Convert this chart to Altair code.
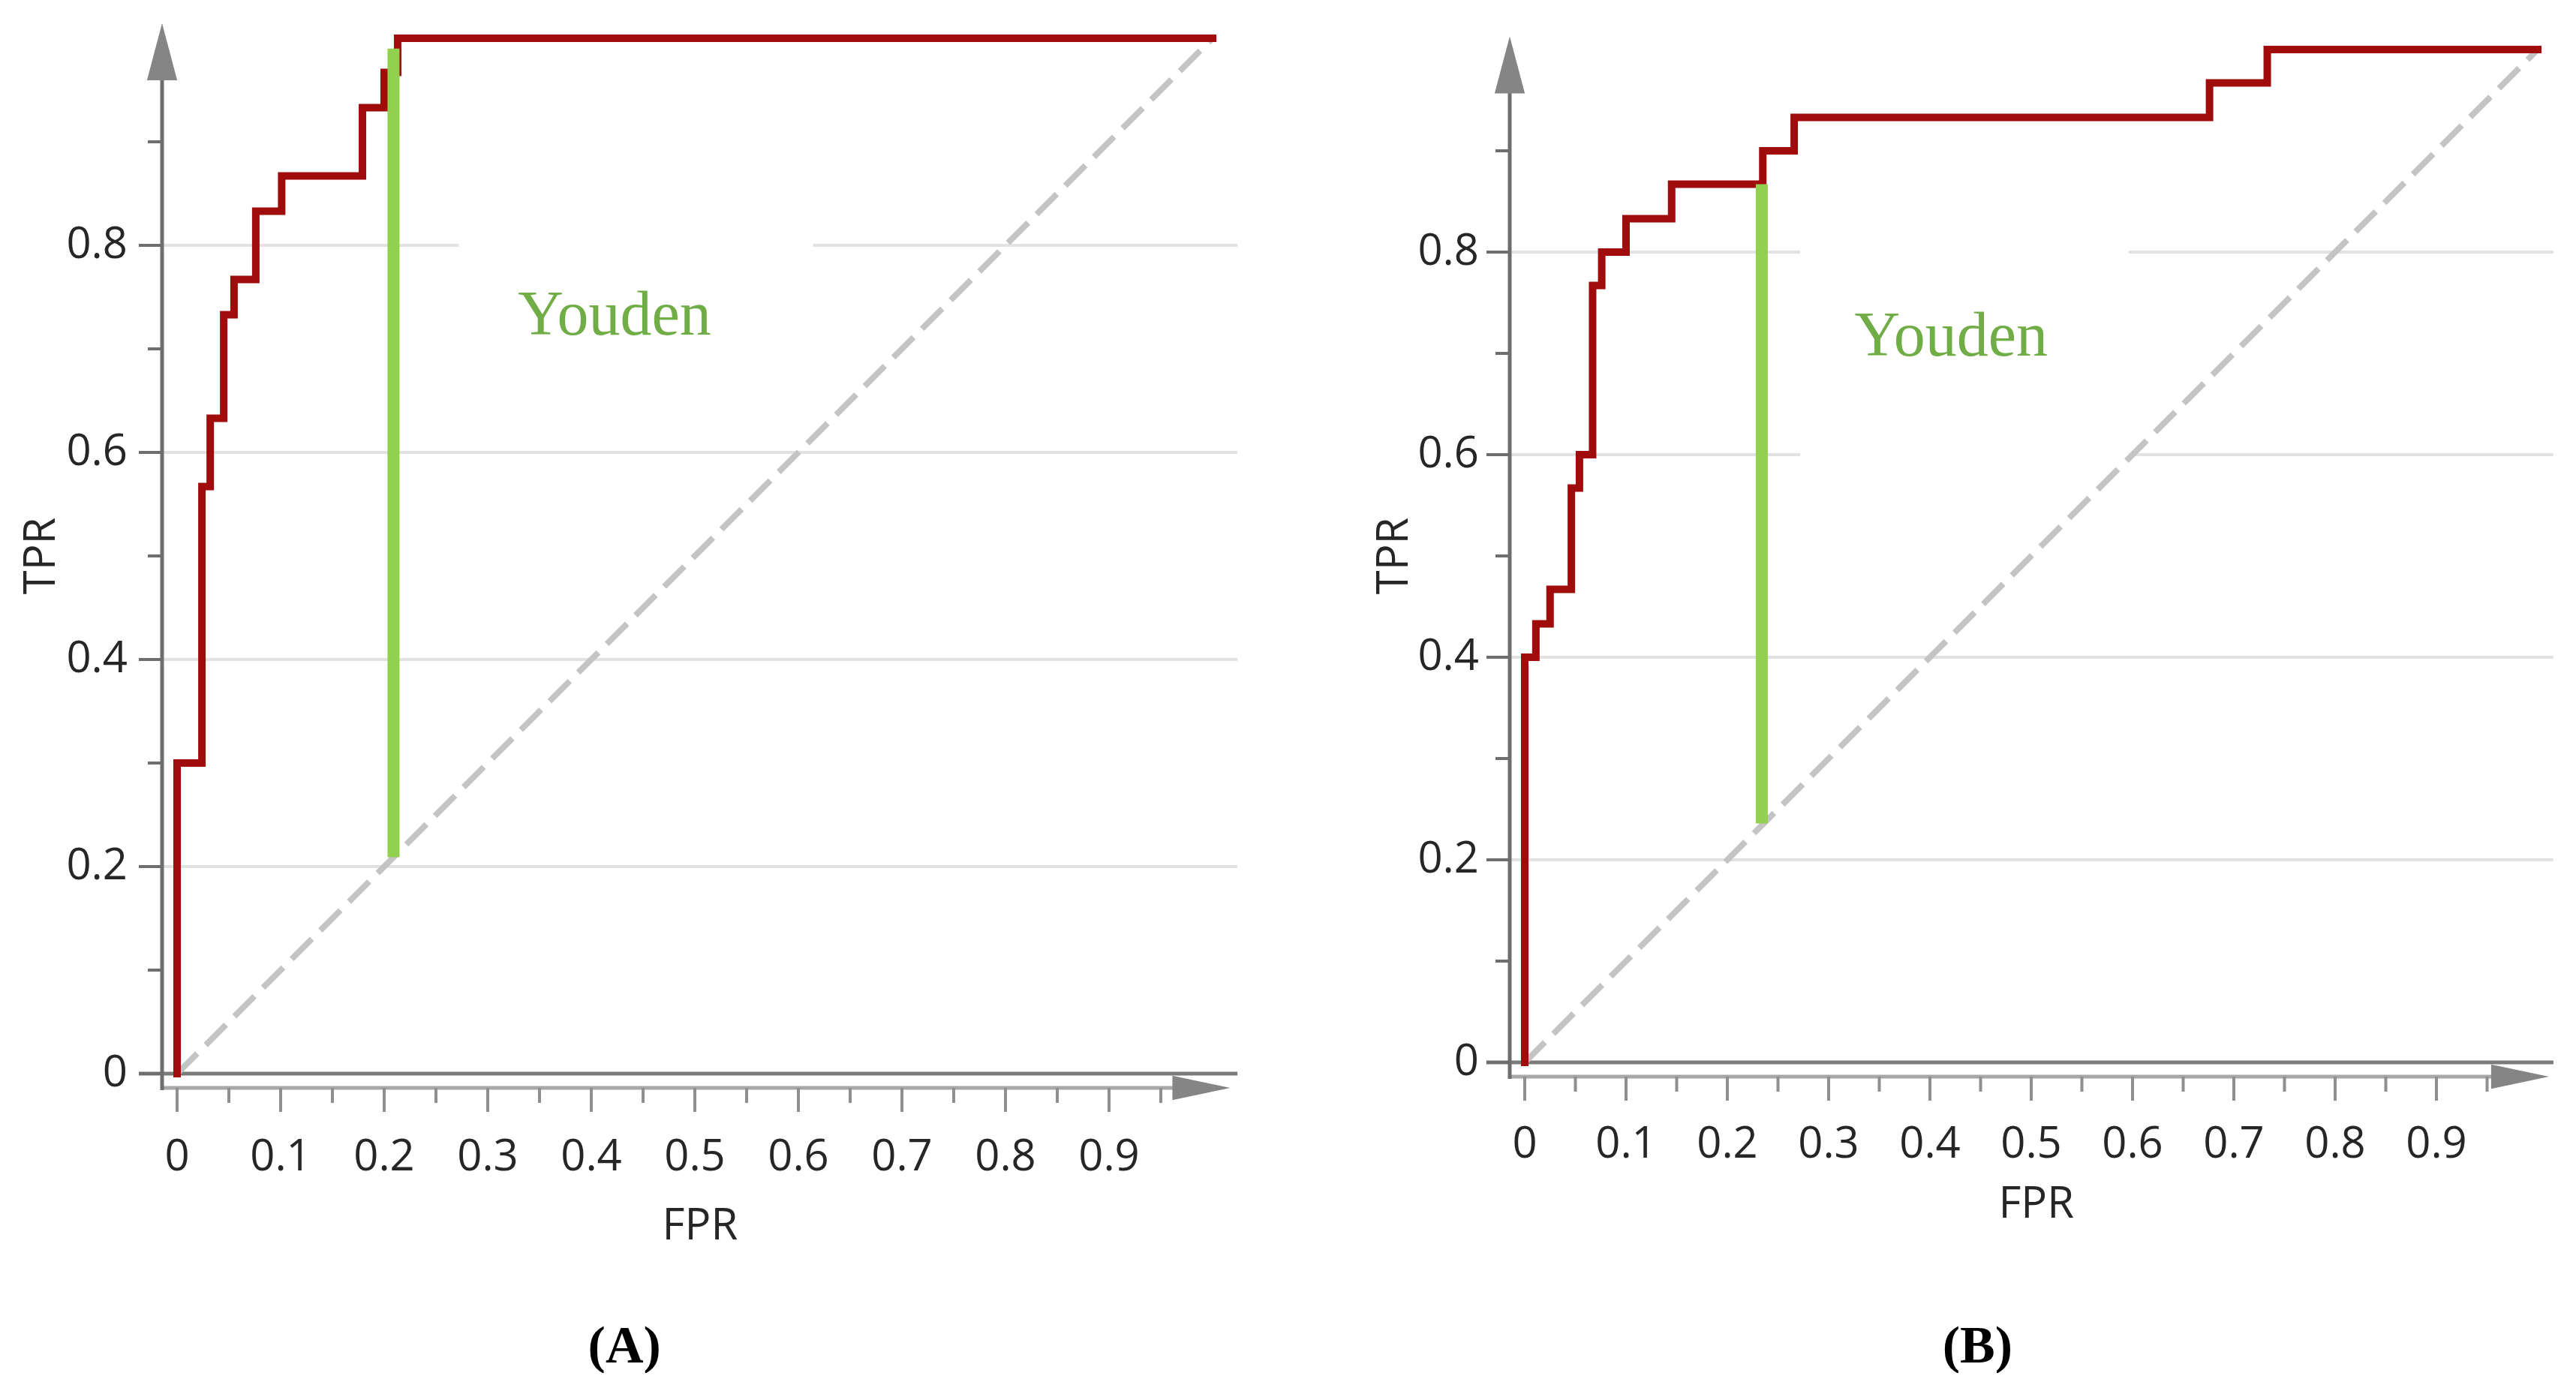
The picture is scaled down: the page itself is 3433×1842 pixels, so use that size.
import altair as alt
import pandas as pd

# ------------------------------------------------------------------
# Data
# ------------------------------------------------------------------
# ROC step curves (points of a step-after line)
A_FPR = [0.0, 0.0, 0.024, 0.032, 0.045, 0.055, 0.076, 0.101, 0.179, 0.200, 0.213, 1.0]
A_TPR = [0.0, 0.300, 0.567, 0.633, 0.733, 0.767, 0.833, 0.867, 0.933, 0.967, 1.0, 1.0]

B_FPR = [0.0, 0.0, 0.011, 0.025, 0.046, 0.054, 0.067, 0.076, 0.100, 0.145, 0.235, 0.266, 0.676, 0.733, 1.0]
B_TPR = [0.0, 0.400, 0.433, 0.467, 0.567, 0.600, 0.767, 0.800, 0.833, 0.867, 0.900, 0.933, 0.967, 1.0, 1.0]

# Youden index segments (x, from, to)
A_YOUDEN_X, A_YOUDEN_Y1, A_YOUDEN_Y2 = 0.209, 0.209, 0.990
B_YOUDEN_X, B_YOUDEN_Y1, B_YOUDEN_Y2 = 0.234, 0.236, 0.867

# chance diagonal
DIAG_X = [0.0, 1.0]
DIAG_Y = [0.0, 1.0]

# ticks and labels
X_MAJOR = [0.0, 0.1, 0.2, 0.3, 0.4, 0.5, 0.6, 0.7, 0.8, 0.9]
X_LABELS = ["0", "0.1", "0.2", "0.3", "0.4", "0.5", "0.6", "0.7", "0.8", "0.9"]
X_MINOR = [0.05, 0.15, 0.25, 0.35, 0.45, 0.55, 0.65, 0.75, 0.85, 0.95]
Y_MAJOR = [0.0, 0.2, 0.4, 0.6, 0.8]
Y_LABELS = ["0", "0.2", "0.4", "0.6", "0.8"]
Y_MINOR = [0.1, 0.3, 0.5, 0.7, 0.9]
GRID_Y = [0.2, 0.4, 0.6, 0.8]
# gridlines that are interrupted in the picture: level -> (gap start, gap end)
A_GRID_GAPS = {0.8: (0.272, 0.614)}
B_GRID_GAPS = {0.8: (0.272, 0.596), 0.6: (0.272, 0.596)}

# ------------------------------------------------------------------
# Layout / style
# ------------------------------------------------------------------
MARGIN = 8
VIEW_H = 1822
A_W = 1700
B_W = 1712
# page-pixel calibration of each panel: data origin (ox, oy) and pixels per unit
A_CAL = dict(ox=236, oy=1431, s=1380, xtip=1.017, ytip=1.0145, gend=1.024,
             ylab_dx=-66, xlab_dy=112, tpr_px=56, fpr_py=1635,
             cap_x=0.432, cap_py=1795, you_x=0.4225, you_y=0.714)
B_CAL = dict(ox=2032, oy=1416, s=1350, xtip=1.011, ytip=1.013, gend=1.0155,
             ylab_dx=-61, xlab_dy=110, tpr_px=1859, fpr_py=1606,
             cap_x=0.447, cap_py=1795, you_x=0.421, you_y=0.698)

RED = "#a00c0c"
GREEN_LINE = "#92d050"
GREEN_TEXT = "#70ad47"
GRID = "#e2e2e2"
SANS = "Open Sans"
SERIF = "Liberation Serif"
LABEL_SIZE = 58


def panel(fpr, tpr, yx, yy1, yy2, gaps, cal, caption, width, left_px):
    ox, oy, s = cal["ox"], cal["oy"], cal["s"]
    xdom = [(left_px - ox) / s, (left_px + width - ox) / s]
    ydom = [(oy - (MARGIN + VIEW_H)) / s, (oy - MARGIN) / s]
    xs = alt.Scale(domain=xdom, nice=False, zero=False)
    ys = alt.Scale(domain=ydom, nice=False, zero=False)

    def X(f):
        return alt.X(f"{f}:Q", scale=xs, axis=None)

    def Y(f):
        return alt.Y(f"{f}:Q", scale=ys, axis=None)

    ax_x = -20 / s   # y-axis line position (data units)
    ax_y = -19 / s   # x-axis line position (data units)

    # gridlines
    rows = []
    for g in GRID_Y:
        if g in gaps:
            a, b = gaps[g]
            rows.append(dict(x1=ax_x, x2=a, y=g))
            rows.append(dict(x1=b, x2=cal["gend"], y=g))
        else:
            rows.append(dict(x1=ax_x, x2=cal["gend"], y=g))
    grid = alt.Chart(pd.DataFrame(rows)).mark_rule(color=GRID, strokeWidth=4).encode(
        x=X("x1"), x2="x2", y=Y("y"))

    zero_line = alt.Chart(pd.DataFrame([dict(x1=-51 / s, x2=cal["gend"], y=0.0)])).mark_rule(
        color="#7a7a7a", strokeWidth=5).encode(x=X("x1"), x2="x2", y=Y("y"))

    x_axis = alt.Chart(pd.DataFrame([dict(x1=ax_x, x2=cal["xtip"] - 0.02, y=ax_y)])).mark_rule(
        color="#a8a8a8", strokeWidth=5).encode(x=X("x1"), x2="x2", y=Y("y"))
    y_axis = alt.Chart(pd.DataFrame([dict(x=ax_x, y1=ax_y - 3 / s, y2=cal["ytip"] - 0.02)])).mark_rule(
        color="#6e6e6e", strokeWidth=5).encode(x=X("x"), y=Y("y1"), y2="y2")

    # ticks
    xt = pd.DataFrame(
        [dict(x=v, y1=ax_y, y2=ax_y - 32 / s) for v in X_MAJOR]
        + [dict(x=v, y1=ax_y, y2=ax_y - 20 / s) for v in X_MINOR])
    x_ticks = alt.Chart(xt).mark_rule(color="#8f8f8f", strokeWidth=4).encode(
        x=X("x"), y=Y("y1"), y2="y2")
    yt = pd.DataFrame(
        [dict(y=v, x1=ax_x, x2=ax_x - 31 / s) for v in Y_MAJOR]
        + [dict(y=v, x1=ax_x, x2=ax_x - 19 / s) for v in Y_MINOR])
    y_ticks = alt.Chart(yt).mark_rule(color="#6e6e6e", strokeWidth=4).encode(
        y=Y("y"), x=X("x1"), x2="x2")

    # arrows
    y_arrow = alt.Chart(pd.DataFrame([dict(x=ax_x, y=cal["ytip"] - 38 / s)])).mark_point(
        shape="M0,-1L0.53,1L-0.53,1Z", size=76 * 76, filled=True, color="#858585",
        opacity=1, strokeWidth=0).encode(x=X("x"), y=Y("y"))
    x_arrow = alt.Chart(pd.DataFrame([dict(x=cal["xtip"] - 38.5 / s, y=ax_y)])).mark_point(
        shape="M1,0L-1,0.42L-1,-0.42Z", size=77 * 77, filled=True, color="#858585",
        opacity=1, strokeWidth=0).encode(x=X("x"), y=Y("y"))

    # diagonal
    diag = alt.Chart(pd.DataFrame(dict(x=DIAG_X, y=DIAG_Y))).mark_line(
        color="#c4c4c4", strokeWidth=8, strokeDash=[38, 16]).encode(x=X("x"), y=Y("y"))

    # ROC curve
    roc_df = pd.DataFrame(dict(fpr=fpr, tpr=tpr, i=list(range(len(fpr)))))
    roc = alt.Chart(roc_df).mark_line(
        color=RED, strokeWidth=10, interpolate="step-after", strokeJoin="miter",
        strokeCap="square").encode(x=X("fpr"), y=Y("tpr"), order="i:Q")

    # Youden segment
    youden = alt.Chart(pd.DataFrame([dict(x=yx, y1=yy1, y2=yy2)])).mark_rule(
        color=GREEN_LINE, strokeWidth=16).encode(x=X("x"), y=Y("y1"), y2="y2")
    youden_txt = alt.Chart(pd.DataFrame([dict(x=cal["you_x"], y=cal["you_y"], t="Youden")])).mark_text(
        font=SERIF, fontSize=84, color=GREEN_TEXT, align="center", baseline="alphabetic").encode(
        x=X("x"), y=Y("y"), text="t:N")

    # tick labels
    xl = pd.DataFrame(dict(x=X_MAJOR, y=[0.0] * len(X_MAJOR), t=X_LABELS))
    x_labels = alt.Chart(xl).mark_text(
        font=SANS, fontSize=LABEL_SIZE, color="#262626", align="center", baseline="middle",
        dy=cal["xlab_dy"]).encode(x=X("x"), y=Y("y"), text="t:N")
    yl = pd.DataFrame(dict(x=[0.0] * len(Y_MAJOR), y=Y_MAJOR, t=Y_LABELS))
    y_labels = alt.Chart(yl).mark_text(
        font=SANS, fontSize=LABEL_SIZE, color="#262626", align="right", baseline="middle",
        dx=cal["ylab_dx"]).encode(x=X("x"), y=Y("y"), text="t:N")

    # axis titles
    tpr_t = alt.Chart(pd.DataFrame([dict(x=(cal["tpr_px"] - ox) / s, y=0.5, t="TPR")])).mark_text(
        font=SANS, fontSize=LABEL_SIZE, color="#262626", angle=270, align="center", baseline="middle").encode(
        x=X("x"), y=Y("y"), text="t:N")
    fpr_t = alt.Chart(pd.DataFrame([dict(x=0.505, y=(oy - cal["fpr_py"]) / s, t="FPR")])).mark_text(
        font=SANS, fontSize=LABEL_SIZE, color="#262626", align="center", baseline="middle").encode(
        x=X("x"), y=Y("y"), text="t:N")

    # caption
    cap = alt.Chart(pd.DataFrame([dict(x=cal["cap_x"], y=(oy - cal["cap_py"]) / s, t=caption)])).mark_text(
        font=SERIF, fontSize=70, fontWeight="bold", color="#000000", align="center",
        baseline="middle").encode(x=X("x"), y=Y("y"), text="t:N")

    return alt.layer(
        grid, zero_line, x_axis, y_axis, x_ticks, y_ticks, diag, roc, youden,
        y_arrow, x_arrow, youden_txt, x_labels, y_labels, tpr_t, fpr_t, cap
    ).properties(width=width, height=VIEW_H)


left_a = MARGIN
left_b = MARGIN + A_W
pa = panel(A_FPR, A_TPR, A_YOUDEN_X, A_YOUDEN_Y1, A_YOUDEN_Y2, A_GRID_GAPS, A_CAL, "(A)", A_W, left_a)
pb = panel(B_FPR, B_TPR, B_YOUDEN_X, B_YOUDEN_Y1, B_YOUDEN_Y2, B_GRID_GAPS, B_CAL, "(B)", B_W, left_b)

chart = alt.hconcat(pa, pb, spacing=0).properties(
    padding=0, background="white"
).configure_view(stroke=None)

chart.save("out.html", embed_options={"renderer": "svg", "actions": False})
